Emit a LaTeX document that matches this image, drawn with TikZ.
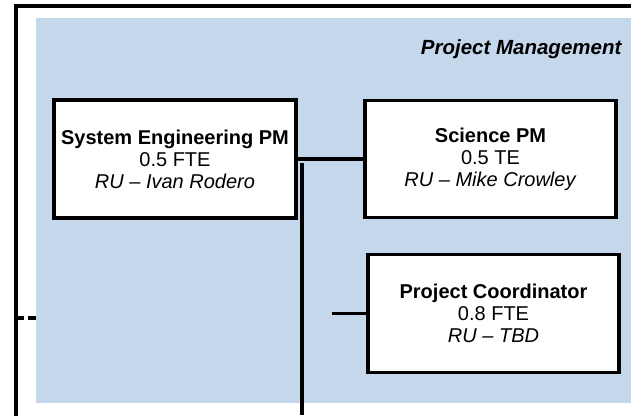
\documentclass[tikz,border=0pt]{standalone}
\usepackage{fontspec}
\setmainfont{Liberation Sans}
\definecolor{pmblue}{RGB}{197,216,235}
\begin{document}
\begin{tikzpicture}[x=1pt,y=-1pt,
  line width=3.2pt,
  rolebox/.style={draw=black,fill=white,align=center,inner sep=0pt,line width=3.2pt,
    font=\fontsize{20}{22}\selectfont},
  conn/.style={draw=black,line width=3.2pt}
]
\useasboundingbox (0,0) rectangle (631,415);
% blue area
\fill[pmblue] (36,18) rectangle (631,403);
% outer frame
\coordinate (ftop) at (631,6);
\coordinate (fcorner) at (16,6);
\coordinate (fbot) at (16,415);
\draw[conn,line cap=rect] (ftop) -- (fcorner) -- (fbot);
% title
\node[anchor=east,inner sep=0pt,font=\fontsize{20.5}{22}\selectfont\bfseries\itshape] (title) at (623,49) {Project Management};
% boxes
\node[rolebox,minimum width=242,minimum height=118] (se) at (175,159)
  {\textbf{System Engineering PM}\\0.5 FTE\\\textit{RU – Ivan Rodero}};
\node[rolebox,minimum width=251,minimum height=117] (sci) at (490.5,159)
  {\textbf{Science PM}\\0.5 TE\\\textit{RU – Mike Crowley}};
\node[rolebox,minimum width=251,minimum height=118] (pc) at (493.5,313.5)
  {\textbf{Project Coordinator}\\0.8 FTE\\\textit{RU – TBD}};
% connectors
\draw[conn] (se.east) -- (sci.west);
\coordinate (vtop) at (302,163);
\coordinate (vbot) at (302,415);
\draw[conn] (vtop) -- (vbot);
\coordinate (pcstub) at (332,313.5);
\draw[conn] (pcstub) -- (pc.west);
\coordinate (dleft) at (16,318);
\coordinate (dright) at (36,318);
\draw[conn,dash pattern=on 8pt off 4pt] (dleft) -- (dright);
\end{tikzpicture}
\end{document}
